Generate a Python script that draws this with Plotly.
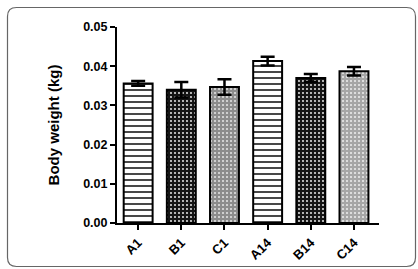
import plotly.graph_objects as go

categories = ["A1", "B1", "C1", "A14", "B14", "C14"]
means = [0.0356, 0.0340, 0.0347, 0.0413, 0.0370, 0.0387]
errors = [0.0006, 0.0020, 0.0020, 0.0011, 0.0010, 0.0011]
y_ticks = [0.00, 0.01, 0.02, 0.03, 0.04, 0.05]
y_tick_labels = ["0.00", "0.01", "0.02", "0.03", "0.04", "0.05"]

pattern_shapes = ["-", ".", ".", "-", ".", "."]
pattern_fg = ["#333333", "#ffffff", "#e6e6e6", "#333333", "#ffffff", "#eeeeee"]
pattern_bg = ["#ffffff", "#151515", "#8c8c8c", "#ffffff", "#151515", "#a6a6a6"]
pattern_size = [6, 4, 4, 6, 4, 4]
pattern_solidity = [0.3, 0.16, 0.2, 0.3, 0.16, 0.2]

W, H = 418, 269
ML, MR, MT, MB = 117, 39, 27, 46
PW, PH = W - ML - MR, H - MT - MB

fig = go.Figure()
for i, cat in enumerate(categories):
    fig.add_trace(go.Bar(
        x=[cat], y=[means[i]],
        marker=dict(
            color=pattern_bg[i],
            line=dict(color="black", width=2),
            pattern=dict(shape=pattern_shapes[i], fgcolor=pattern_fg[i], bgcolor=pattern_bg[i],
                         size=pattern_size[i], solidity=pattern_solidity[i], fillmode="replace"),
        ),
        error_y=dict(type="data", array=[errors[i]], visible=True, color="black", thickness=2.5, width=7),
        showlegend=False,
        hoverinfo="skip",
    ))

# rounded frame in paper coordinates
def px2x(px):
    return (px - ML) / PW

def py2y(py):
    return (H - MB - py) / PH

x0, x1, y0, y1, r = 7.5, 415.5, 7.5, 266.5, 9
path = (
    f"M {px2x(x0 + r)},{py2y(y0)} L {px2x(x1 - r)},{py2y(y0)} "
    f"Q {px2x(x1)},{py2y(y0)} {px2x(x1)},{py2y(y0 + r)} "
    f"L {px2x(x1)},{py2y(y1 - r)} Q {px2x(x1)},{py2y(y1)} {px2x(x1 - r)},{py2y(y1)} "
    f"L {px2x(x0 + r)},{py2y(y1)} Q {px2x(x0)},{py2y(y1)} {px2x(x0)},{py2y(y1 - r)} "
    f"L {px2x(x0)},{py2y(y0 + r)} Q {px2x(x0)},{py2y(y0)} {px2x(x0 + r)},{py2y(y0)} Z"
)
fig.add_shape(type="path", path=path, xref="paper", yref="paper",
              line=dict(color="#666666", width=1.2), layer="below")

font_family = "Liberation Sans, Arial, sans-serif"
fig.update_layout(
    width=W, height=H, autosize=False,
    margin=dict(l=ML, r=MR, t=MT, b=MB, pad=0, autoexpand=False),
    paper_bgcolor="white", plot_bgcolor="white",
    barmode="overlay",
    bargap=0.33,
    font=dict(family=font_family, color="black"),
    xaxis=dict(
        type="category", range=[-0.49, 5.58], automargin=False,
        showline=True, linecolor="black", linewidth=2,
        ticks="outside", ticklen=5, tickwidth=2, tickcolor="black",
        tickangle=-45, tickfont=dict(size=13, family=font_family, weight="bold"),
        showgrid=False, zeroline=False,
    ),
    yaxis=dict(
        range=[0, 0.05], automargin=False,
        tickvals=y_ticks, ticktext=y_tick_labels,
        showline=True, linecolor="black", linewidth=2,
        ticks="outside", ticklen=5, tickwidth=2, tickcolor="black",
        tickfont=dict(size=12.5, family=font_family, weight="bold"),
        title=dict(text="Body weight (kg)", font=dict(size=15, family=font_family, weight="bold"), standoff=20),
        showgrid=False, zeroline=False,
    ),
)

fig.write_html("out.html", config={"displayModeBar": False},
               post_script="document.body.style.margin='0';document.body.style.padding='0';"
                           "document.documentElement.style.overflow='hidden';document.body.style.overflow='hidden';")
